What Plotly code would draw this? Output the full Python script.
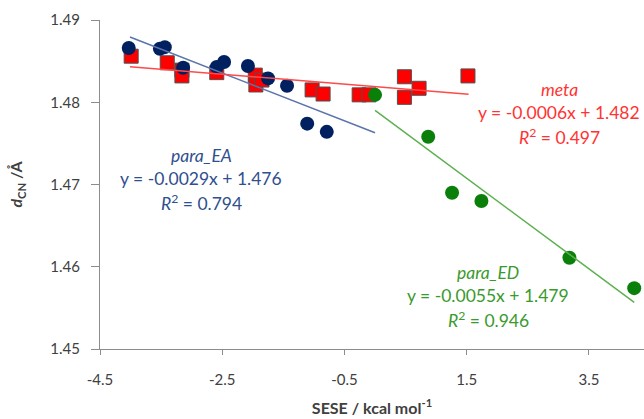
import plotly.graph_objects as go

# ---- data ----
ea_x = [-4.03, -3.52, -3.44, -3.14, -2.59, -2.47, -2.08, -1.75, -1.44, -1.11, -0.79]
ea_y = [1.4866, 1.4865, 1.4867, 1.4842, 1.4843, 1.4849, 1.4844, 1.4829, 1.4820, 1.4774, 1.4764]

meta_x = [-3.99, -3.40, -3.16, -3.16, -2.59, -1.96, -1.95, -1.85, -1.03, -0.85, -0.26, -0.10, 0.48, 0.48, 0.72, 1.52]
meta_y = [1.4856, 1.4848, 1.4839, 1.4832, 1.4836, 1.4833, 1.4821, 1.4827, 1.4815, 1.4810, 1.4809, 1.4809, 1.4831, 1.4806, 1.4817, 1.4832]

ed_x = [0.00, 0.87, 1.26, 1.74, 3.18, 4.24]
ed_y = [1.4809, 1.4758, 1.4690, 1.4680, 1.4611, 1.4574]

# trendline coefficients (slope, intercept) and x extents
ea_fit = (-0.0029, 1.4763)
ea_fit_x = [-4.01, 0.0]
meta_fit = (-0.0006, 1.4819)
meta_fit_x = [-4.01, 1.53]
ed_fit = (-0.0055, 1.479)
ed_fit_x = [0.0, 4.24]

x_ticks = [-4.5, -2.5, -0.5, 1.5, 3.5]
y_ticks = [1.45, 1.46, 1.47, 1.48, 1.49]

ea_label = ["<i>para_EA</i>", "y = -0.0029x + 1.476", "<i>R</i><sup>2</sup> = 0.794"]
meta_label = ["<i>meta</i>", "y = -0.0006x + 1.482", "<i>R</i><sup>2</sup> = 0.497"]
ed_label = ["<i>para_ED</i>", "y = -0.0055x + 1.479", "<i>R</i><sup>2</sup> = 0.946"]

FONT = "Lato"
AX = "#404040"

fig = go.Figure()

fig.add_trace(go.Scatter(x=meta_x, y=meta_y, mode="markers", name="meta",
                         marker=dict(symbol="square", size=14, color="#FF0000",
                                     line=dict(color="#505050", width=1))))
fig.add_trace(go.Scatter(x=ea_x, y=ea_y, mode="markers", name="para_EA",
                         marker=dict(symbol="circle", size=14, color="#002060",
                                     line=dict(width=0))))
fig.add_trace(go.Scatter(x=ed_x, y=ed_y, mode="markers", name="para_ED",
                         marker=dict(symbol="circle", size=14, color="#0A800A",
                                     line=dict(width=0))))

def line(fit, xs, color):
    ys = [fit[0] * x + fit[1] for x in xs]
    fig.add_trace(go.Scatter(x=xs, y=ys, mode="lines", line=dict(color=color, width=1.5),
                             showlegend=False, hoverinfo="skip"))

line(ea_fit, ea_fit_x, "#5B74AA")
line(meta_fit, meta_fit_x, "#FF4A4A")
line(ed_fit, ed_fit_x, "#5DB04F")

def px(xp, yp):
    # pixel -> paper coords of the plot area (l=100, width=544, t=20, h=329)
    return (xp - 100) / 544, 1 - (yp - 20) / 329

def label(texts, xc, y0, color):
    for i, t in enumerate(texts):
        xx, yy = px(xc, y0 + i * 23.5)
        fig.add_annotation(x=xx, y=yy, xref="paper", yref="paper", text=t, showarrow=False,
                           xanchor="center", yanchor="middle",
                           font=dict(family=FONT, size=17.5, color=color))

label(ea_label, 201, 155, "#2F4F8F")
label(meta_label, 559, 89, "#FF3333")
label(ed_label, 488, 272, "#3A9A2E")

fig.update_layout(
    width=644, height=419,
    margin=dict(l=100, r=0, t=20, b=70),
    paper_bgcolor="white", plot_bgcolor="white",
    showlegend=False,
    font=dict(family=FONT, size=15, color=AX),
    xaxis=dict(range=[-4.5, 4.4], tickvals=x_ticks, ticktext=[str(v) for v in x_ticks],
               showgrid=False, zeroline=False, showline=True, linecolor="#8C8C8C",
               linewidth=1, ticks="outside", ticklen=5, tickcolor="#8C8C8C",
               ticklabelstandoff=12,
               title=dict(text="<b>SESE / kcal mol<sup>-1</sup></b>", standoff=15,
                          font=dict(family=FONT, size=16, color=AX))),
    yaxis=dict(range=[1.45, 1.49], tickvals=y_ticks, ticktext=["%.2f" % v for v in y_ticks],
               showgrid=False, zeroline=False, showline=True, linecolor="#8C8C8C",
               linewidth=1, ticks="outside", ticklen=8, tickcolor="#8C8C8C",
               ticklabelstandoff=8,
               title=dict(text="<b><i>d</i><sub>CN</sub> /Å</b>", standoff=23,
                          font=dict(family=FONT, size=16, color=AX))),
)

fig.write_html("out.html", config={"displayModeBar": False},
               post_script="document.body.style.margin='0';")
